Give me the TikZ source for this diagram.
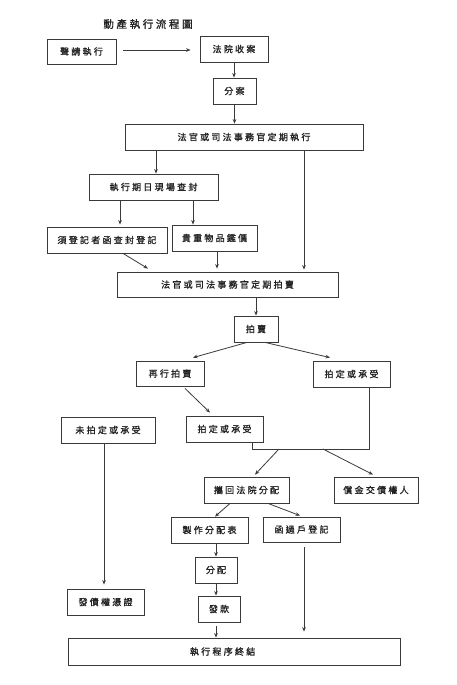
\documentclass[tikz,border=0pt]{standalone}
\usepackage{fontspec}
\usetikzlibrary{arrows.meta}
\newfontfamily\cjk[LetterSpace=25,FakeBold=1.2]{Noto Sans CJK TC}
\definecolor{linec}{HTML}{3A3A3A}
\definecolor{textc}{HTML}{222222}
\begin{document}
\begin{tikzpicture}[x=1pt,y=-1pt,
  box/.style 2 args={draw=linec, line width=0.8pt, inner sep=0pt, text=textc,
    minimum width=#1, minimum height=#2, font=\cjk\fontsize{9}{11}\selectfont},
  conn/.style={draw=linec, line width=0.8pt, -{Stealth[length=4.5pt,width=3.6pt]}},
  plain/.style={draw=linec, line width=0.8pt},
  titlef/.style={font=\cjk\fontsize{10.5}{12}\selectfont, text=textc, inner sep=0pt}]
\useasboundingbox[fill=white] (0,0) rectangle (457,685);

\node[titlef] (title) at (148,24) {動產執行流程圖};

\node[box={69}{25}] (apply) at (81.5,51.5) {聲請執行};
\node[box={68}{26}] (recv) at (234,49) {法院收案};
\node[box={43}{26}] (fen) at (234.5,91) {分案};
\node[box={238}{26}] (exec) at (244,137) {法官或司法事務官定期執行};
\node[box={129}{26}] (seal) at (153.5,187) {執行期日現場查封};
\node[box={120}{26}] (reg) at (107,240) {須登記者函查封登記};
\node[box={85}{26}] (val) at (214.5,238) {貴重物品鑑價};
\node[box={221}{25}] (auct0) at (227.5,284.5) {法官或司法事務官定期拍賣};
\node[box={44}{26}] (auct) at (256,329) {拍賣};
\node[box={68}{25}] (reauct) at (170,373.5) {再行拍賣};
\node[box={77}{26}] (sold1) at (351.5,374) {拍定或承受};
\node[box={77}{26}] (sold2) at (224.5,429) {拍定或承受};
\node[box={94}{26}] (unsold) at (108,430) {未拍定或承受};
\node[box={85}{26}] (back) at (246.5,490) {攜回法院分配};
\node[box={84}{26}] (pay) at (376,490) {償金交債權人};
\node[box={77}{26}] (table) at (209.5,530) {製作分配表};
\node[box={77}{25}] (transfer) at (301.5,529.5) {函過戶登記};
\node[box={42}{26}] (dist) at (216,570) {分配};
\node[box={42}{26}] (payout) at (219,609) {發款};
\node[box={77}{26}] (cert) at (105.5,602) {發債權憑證};
\node[box={332}{27}, text width=332pt, align=left] (end) at (234,651.5) {\hspace*{122pt}執行程序終結};

\coordinate (junR) at (369,449);
\coordinate (junL) at (252,449);
\coordinate (j1) at (279,449);
\coordinate (j2) at (323,449);

\draw[conn] ([xshift=7pt,yshift=1.5pt]apply.east) -- ([xshift=-9pt,yshift=1.5pt]apply.east -| recv.west);
\draw[conn] (recv.south) -- (recv.south |- fen.north);
\draw[conn] (fen.south) -- (fen.south |- exec.north);
\draw[conn] ([xshift=2.5pt]seal.north |- exec.south) -- ([xshift=2.5pt]seal.north);
\draw[conn] ([xshift=13pt]reg.north |- seal.south) -- ([xshift=13pt,yshift=2pt]reg.north);
\draw[conn] ([xshift=-21.5pt]val.north |- seal.south) -- ([xshift=-21.5pt]val.north);
\draw[conn] ([xshift=16pt]reg.south) -- ([xshift=-79.5pt,yshift=3pt]auct0.north);
\draw[conn] ([xshift=2.5pt]val.south) -- ([xshift=2.5pt,yshift=3pt]val.south |- auct0.north);
\draw[conn] ([xshift=60pt]exec.south) -- ([xshift=60pt,yshift=2pt]exec.south |- auct0.north);
\draw[conn] (auct0.south -| auct.north) -- (auct.north);
\draw[conn] ([xshift=-9pt]auct.south) -- ([xshift=23pt,yshift=3pt]reauct.north);
\draw[conn] ([xshift=9pt]auct.south) -- ([xshift=-21.5pt,yshift=3pt]sold1.north);
\draw[conn] ([xshift=15pt,yshift=-2pt]reauct.south) -- ([xshift=-14.5pt,yshift=3pt]sold2.north);
\draw[plain] ([xshift=17.5pt]sold1.south) -- (junR) -- (junL) -- ([xshift=27.5pt]sold2.south);
\draw[conn] (j1) -- ([xshift=8.5pt,yshift=2pt]back.north);
\draw[conn] (j2) -- ([xshift=-3pt,yshift=2pt]pay.north);
\draw[conn] ([xshift=-16.5pt]back.south) -- ([xshift=5.5pt]table.north);
\draw[conn] ([xshift=21.5pt]back.south) -- ([xshift=-1.5pt,yshift=1pt]transfer.north);
\draw[conn] ([xshift=6.5pt]table.south) -- (dist.north);
\draw[conn] (dist.south) -- (dist.south |- payout.north);
\draw[conn] ([xshift=-3pt,yshift=-4pt]payout.south) -- ([xshift=-3pt]payout.south |- end.north);
\draw[conn] ([xshift=2.5pt,yshift=-5pt]transfer.south) -- ([xshift=2.5pt,yshift=6pt]transfer.south |- end.north);
\draw[conn] ([xshift=-4pt]unsold.south) -- ([xshift=-4pt,yshift=4pt]unsold.south |- cert.north);
\end{tikzpicture}
\end{document}
